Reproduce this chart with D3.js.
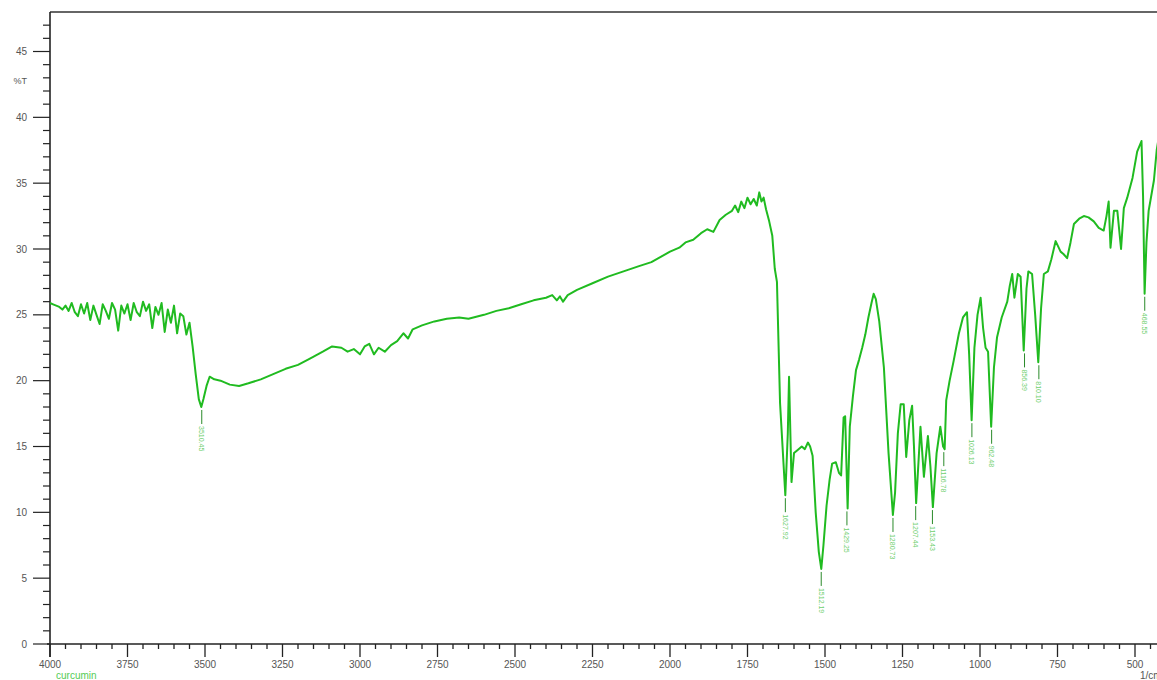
<!DOCTYPE html>
<html>
<head>
<meta charset="utf-8">
<script src="https://cdn.jsdelivr.net/npm/d3@7"></script>
<style>
  body { margin: 0; background: #fff; }
  svg { display: block; font-family: "Liberation Sans", Arial, sans-serif; }
</style>
</head>
<body>
<svg id="chart"></svg>
<script>
// spectrum: wavenumber (1/cm) and %T
var wavenumber = [
  4000, 3990, 3980, 3970, 3960, 3950, 3940, 3930, 3920, 3910, 3900, 3890, 3880, 3870, 3860, 3850,
  3840, 3830, 3820, 3810, 3800, 3790, 3780, 3770, 3760, 3750, 3740, 3730, 3720, 3710, 3700, 3690,
  3680, 3670, 3660, 3650, 3640, 3630, 3620, 3610, 3600, 3590, 3580, 3570, 3560, 3550, 3540, 3530,
  3520, 3512, 3505, 3495, 3485, 3470, 3450, 3420, 3390, 3360, 3320, 3280, 3240, 3200, 3160, 3120,
  3090, 3060, 3040, 3020, 3000, 2985, 2970, 2955, 2940, 2920, 2900, 2880, 2860, 2845, 2830, 2800,
  2760, 2720, 2680, 2650, 2600, 2560, 2520, 2480, 2440, 2400, 2380, 2365, 2355, 2345, 2330, 2300,
  2250, 2200, 2150, 2100, 2060, 2030, 2000, 1970, 1950, 1925, 1900, 1880, 1860, 1840, 1820, 1800,
  1790, 1780, 1770, 1760, 1750, 1740, 1730, 1720, 1712, 1705, 1698, 1690, 1680, 1670, 1662, 1655,
  1645, 1628, 1620, 1616, 1608, 1600, 1590, 1575, 1565, 1555, 1548, 1540, 1530, 1520, 1512, 1505,
  1495, 1485, 1477, 1465, 1455, 1448, 1440, 1435, 1427, 1420, 1410, 1400, 1390, 1380, 1370, 1360,
  1350, 1343, 1336, 1325, 1310, 1295, 1281, 1274, 1265, 1256, 1246, 1238, 1228, 1219, 1213, 1206,
  1198, 1192, 1181, 1168, 1160, 1152, 1140, 1128, 1119, 1114, 1109, 1098, 1085, 1068, 1055, 1042,
  1035, 1027, 1018, 1008, 998, 990, 982, 974, 964, 955, 945, 930, 912, 904, 896, 889, 878, 869,
  859, 850, 844, 832, 822, 812, 803, 794, 781, 770, 756, 748, 740, 730, 719, 708, 697, 680, 665,
  650, 633, 617, 601, 592, 585, 579, 568, 557, 545, 536, 525, 508, 493, 479, 474, 469, 463, 456,
  439, 430, 420
];
var transmittance = [
  25.9, 25.8, 25.7, 25.6, 25.4, 25.7, 25.3, 25.9, 25.2, 24.9, 25.8, 25.1, 25.9, 24.6, 25.7, 25.0,
  24.3, 25.8, 25.3, 24.7, 25.9, 25.4, 23.8, 25.7, 25.1, 25.8, 24.6, 25.9, 25.2, 24.9, 26.0, 25.3,
  25.8, 24.0, 25.6, 25.0, 25.9, 23.7, 25.4, 24.4, 25.7, 23.6, 25.1, 24.9, 23.5, 24.4, 22.6, 20.5,
  18.6, 18.0, 18.6, 19.6, 20.3, 20.1, 20.0, 19.7, 19.6, 19.8, 20.1, 20.5, 20.9, 21.2, 21.7, 22.2,
  22.6, 22.5, 22.2, 22.4, 22.0, 22.6, 22.8, 22.0, 22.5, 22.2, 22.7, 23.0, 23.6, 23.2, 23.9, 24.2,
  24.5, 24.7, 24.8, 24.7, 25.0, 25.3, 25.5, 25.8, 26.1, 26.3, 26.5, 26.1, 26.4, 26.0, 26.5, 26.9,
  27.4, 27.9, 28.3, 28.7, 29.0, 29.4, 29.8, 30.1, 30.5, 30.7, 31.2, 31.5, 31.3, 32.2, 32.6, 32.9,
  33.3, 32.8, 33.6, 33.1, 33.9, 33.4, 33.8, 33.3, 34.3, 33.6, 33.9, 33.0, 32.1, 31.0, 28.5, 27.5,
  18.3, 11.3, 16.0, 20.3, 12.3, 14.5, 14.7, 15.0, 14.8, 15.3, 15.0, 14.3, 10.0, 7.0, 5.7, 7.5,
  10.5, 12.5, 13.7, 13.8, 13.0, 12.8, 17.2, 17.3, 10.3, 16.5, 18.8, 20.8, 21.6, 22.5, 23.5, 24.8,
  25.9, 26.6, 26.2, 24.5, 21.0, 14.5, 9.8, 11.5, 16.0, 18.2, 18.2, 14.2, 17.0, 18.1, 15.0, 10.7,
  14.0, 16.5, 12.7, 15.8, 13.5, 10.4, 14.5, 16.5, 15.0, 14.8, 18.5, 20.0, 21.5, 23.6, 24.8, 25.2,
  22.0, 17.0, 22.5, 25.0, 26.3, 24.0, 22.5, 22.2, 16.5, 21.0, 23.3, 24.8, 26.0, 27.2, 28.1, 26.3, 28.1, 27.9,
  22.3, 27.0, 28.3, 28.1, 25.0, 21.4, 25.5, 28.1, 28.3, 29.2, 30.6, 30.2, 29.8, 29.6, 29.3, 30.5, 31.9, 32.3, 32.5,
  32.4, 32.1, 31.6, 31.4, 32.5, 33.6, 30.1, 32.9, 32.9, 30.0, 33.1, 33.9, 35.4, 37.4, 38.2, 34.0, 26.6, 30.5, 32.9,
  35.2, 37.5, 39.0
];

// labelled peaks
var peakWavenumber = [3510.45, 1627.92, 1512.19, 1429.25, 1280.73, 1207.44, 1153.43, 1116.78, 1026.13, 962.48, 856.39, 810.10, 468.55];
var peakT = [18.0, 11.3, 5.7, 10.3, 9.8, 10.7, 10.4, 14.8, 17.0, 16.5, 22.3, 21.4, 26.6];

var yTicks = [0, 5, 10, 15, 20, 25, 30, 35, 40, 45];
var xTicks = [4000, 3750, 3500, 3250, 3000, 2750, 2500, 2250, 2000, 1750, 1500, 1250, 1000, 750, 500];

var width = 1157, height = 680,
    plotLeft = 50, plotTop = 12, plotBottom = 644

var svg = d3.select("#chart")
    .attr("width", width)
    .attr("height", height)

var x = d3.scaleLinear().domain([4000, 400]).range([plotLeft, plotLeft + 3600 * 0.31])
var y = d3.scaleLinear().domain([0, 48]).range([plotBottom, plotTop])

// frame: top edge
svg.append("line")
    .attr("x1", plotLeft).attr("x2", width)
    .attr("y1", plotTop).attr("y2", plotTop)
    .attr("stroke", "#333").attr("stroke-width", 1.6)

// y axis, minor ticks every 1 %T
var yAxis = svg.append("g").attr("transform", "translate(" + plotLeft + ",0)")
yAxis.append("line")
    .attr("y1", plotTop).attr("y2", plotBottom + 13)
    .attr("stroke", "#222").attr("stroke-width", 1.6)
yAxis.selectAll(".minor")
    .data(d3.range(0, 48))
    .enter().append("line")
    .attr("x1", d => yTicks.includes(d) ? -17 : -7)
    .attr("x2", 0)
    .attr("y1", d => y(d)).attr("y2", d => y(d))
    .attr("stroke", "#222").attr("stroke-width", 1.2)
yAxis.selectAll("text")
    .data(yTicks)
    .enter().append("text")
    .attr("x", -23).attr("y", d => y(d) + 3.5)
    .attr("text-anchor", "end")
    .attr("font-size", 10)
    .attr("fill", "#555")
    .text(d => d)
yAxis.append("text")
    .attr("x", -23).attr("y", y(42.8) + 3.5)
    .attr("text-anchor", "end")
    .attr("font-size", 9)
    .attr("fill", "#555")
    .text("%T")

// x axis, minor ticks every 50 1/cm
var xAxis = svg.append("g").attr("transform", "translate(0," + plotBottom + ")")
xAxis.append("line")
    .attr("x1", plotLeft - 3).attr("x2", width)
    .attr("stroke", "#222").attr("stroke-width", 1.6)
xAxis.selectAll(".minor")
    .data(d3.range(400, 4001, 50))
    .enter().append("line")
    .attr("x1", d => x(d)).attr("x2", d => x(d))
    .attr("y1", 0)
    .attr("y2", d => d % 250 == 0 ? 13 : 5)
    .attr("stroke", "#222").attr("stroke-width", 1.3)
xAxis.selectAll("text")
    .data(xTicks)
    .enter().append("text")
    .attr("x", d => x(d)).attr("y", 24)
    .attr("text-anchor", "middle")
    .attr("font-size", 10)
    .attr("fill", "#555")
    .text(d => d)
xAxis.append("text")
    .attr("x", 1140).attr("y", 35)
    .attr("font-size", 10)
    .attr("fill", "#555")
    .text("1/cm")
svg.append("text")
    .attr("x", 56).attr("y", 679)
    .attr("font-size", 10)
    .attr("fill", "#55cc55")
    .text("curcumin")

// spectrum
var line = d3.line()
    .x((d, i) => x(wavenumber[i]))
    .y(d => y(d))

svg.append("path")
    .datum(transmittance)
    .attr("d", line)
    .attr("fill", "none")
    .attr("stroke", "#20bb20")
    .attr("stroke-width", 2)
    .attr("stroke-linejoin", "round")

// peak markers
var peaks = svg.selectAll(".peak")
    .data(peakWavenumber)
    .enter().append("g")
    .attr("transform", (d, i) => "translate(" + x(d) + "," + y(peakT[i]) + ")")
peaks.append("line")
    .attr("y1", 3).attr("y2", 17)
    .attr("stroke", "#2a8a2a").attr("stroke-width", 1)
peaks.append("text")
    .attr("transform", "translate(-2.5,19) rotate(90)")
    .attr("font-size", 7)
    .attr("fill", "#6fcf6f")
    .text(d => d.toFixed(2))
</script>
</body>
</html>
